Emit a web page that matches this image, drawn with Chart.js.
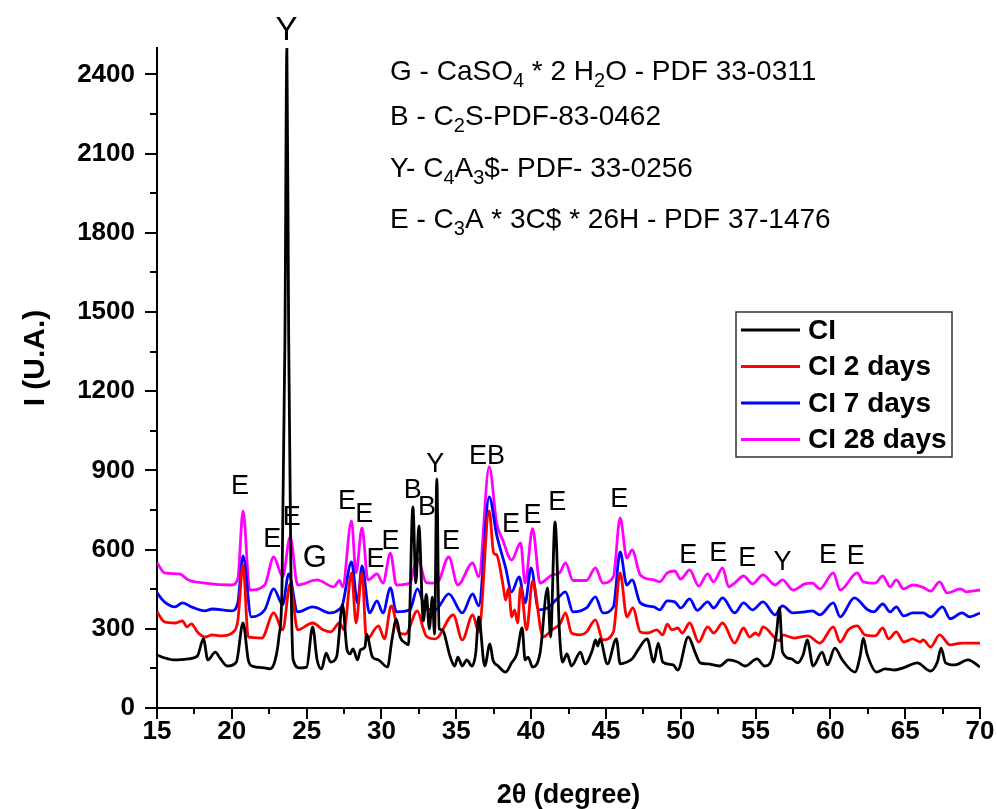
<!DOCTYPE html>
<html>
<head>
<meta charset="utf-8">
<title>XRD CI</title>
<script src="https://cdn.jsdelivr.net/npm/chart.js@4.4.1/dist/chart.umd.min.js"></script>
<style>
  html, body { margin: 0; padding: 0; background: #fff; }
  canvas { display: block; }
</style>
</head>
<body>
<canvas id="xrdChart" width="997" height="809"></canvas>
<script>
// 2theta (deg) / intensity pairs for each sample
const ciX = [15.0, 15.5, 16.2, 17.1, 17.7, 18.1, 18.4, 18.9, 19.2, 19.7, 20.3, 20.75, 21.1, 21.35, 22.2, 22.55, 22.9, 23.15, 23.35, 23.55, 23.68, 23.8, 23.95, 24.1, 24.55, 25.0, 25.4, 25.7, 26.0, 26.3, 26.6, 27.0, 27.4, 27.7, 27.9, 28.1, 28.4, 28.6, 28.9, 29.0, 29.4, 29.8, 30.4, 30.7, 31.0, 31.25, 31.6, 31.8, 32.1, 32.3, 32.5, 32.8, 33.0, 33.2, 33.4, 33.55, 33.7, 33.85, 34.05, 34.6, 34.9, 35.1, 35.4, 35.7, 36.05, 36.3, 36.5, 36.9, 37.25, 37.45, 37.8, 38.3, 38.7, 39.05, 39.4, 39.6, 39.8, 40.1, 40.6, 41.1, 41.3, 41.6, 41.9, 42.1, 42.4, 42.7, 43.3, 43.6, 44.1, 44.3, 44.45, 44.6, 45.1, 45.7, 45.95, 46.4, 46.75, 47.15, 47.75, 48.2, 48.5, 48.8, 49.5, 49.8, 50.5, 51.0, 51.3, 51.8, 52.6, 53.2, 53.8, 54.3, 55.1, 55.6, 56.1, 56.4, 56.6, 56.8, 57.4, 57.8, 58.2, 58.45, 58.85, 59.45, 59.8, 60.3, 60.8, 61.65, 62.0, 62.2, 62.45, 63.1, 63.65, 64.3, 65.0, 65.8, 66.7, 67.15, 67.4, 67.7, 68.3, 69.2, 70.0];
const ciY = [201, 190, 182, 186, 197, 262, 182, 212, 190, 159, 174, 322, 182, 159, 152, 148, 182, 269, 447, 1400, 2500, 1400, 520, 182, 152, 155, 307, 182, 148, 208, 174, 193, 391, 220, 205, 224, 182, 220, 231, 280, 193, 182, 155, 258, 337, 269, 246, 239, 762, 474, 690, 330, 430, 300, 420, 280, 868, 300, 296, 193, 159, 193, 159, 182, 159, 208, 345, 159, 243, 182, 159, 136, 171, 205, 303, 182, 193, 155, 208, 455, 269, 705, 284, 174, 205, 159, 212, 167, 220, 258, 235, 262, 167, 262, 167, 174, 186, 220, 262, 174, 246, 174, 163, 144, 269, 205, 171, 167, 159, 182, 174, 159, 186, 159, 186, 284, 379, 212, 186, 171, 205, 258, 159, 212, 163, 227, 182, 136, 200, 265, 205, 136, 148, 144, 155, 171, 140, 174, 227, 171, 163, 182, 155];

const ci2X = [15.0, 15.5, 16.2, 16.7, 17.0, 17.3, 17.7, 18.2, 18.7, 19.3, 20.1, 20.4, 20.75, 21.1, 22.0, 22.8, 23.4, 23.9, 24.4, 25.4, 26.1, 26.6, 27.2, 27.5, 28.0, 28.3, 28.7, 29.0, 29.8, 30.2, 30.65, 31.2, 31.6, 32.4, 32.8, 33.0, 33.6, 34.8, 35.4, 36.1, 36.5, 37.2, 37.5, 37.7, 38.1, 38.3, 38.5, 38.7, 38.9, 39.1, 39.3, 39.7, 40.1, 40.8, 41.4, 41.95, 42.3, 42.7, 43.3, 43.7, 44.3, 44.8, 45.5, 45.95, 46.4, 46.8, 47.3, 47.8, 48.4, 48.8, 49.1, 49.4, 49.8, 50.1, 50.6, 51.2, 51.8, 52.2, 52.8, 53.6, 54.2, 54.6, 55.0, 55.2, 55.5, 56.6, 56.8, 57.6, 58.5, 59.3, 60.2, 60.65, 61.2, 61.8, 62.3, 63.0, 63.5, 63.9, 64.4, 64.9, 65.5, 66.0, 66.2, 66.7, 67.3, 68.0, 68.8, 70.0];
const ci2Y = [364, 326, 322, 330, 307, 319, 288, 269, 277, 273, 288, 330, 542, 269, 265, 360, 296, 470, 296, 322, 296, 288, 322, 296, 512, 322, 512, 258, 311, 262, 387, 284, 280, 368, 300, 272, 262, 353, 258, 353, 288, 747, 587, 580, 474, 409, 455, 345, 372, 322, 459, 296, 481, 269, 296, 320, 360, 284, 277, 288, 334, 258, 288, 512, 345, 379, 288, 284, 296, 277, 318, 296, 303, 284, 322, 250, 307, 284, 322, 246, 303, 269, 284, 275, 307, 254, 277, 265, 273, 246, 307, 250, 296, 311, 277, 273, 303, 262, 288, 250, 262, 250, 258, 231, 277, 239, 246, 246];

const ci7X = [15.0, 15.5, 16.2, 16.7, 17.3, 18.2, 18.7, 20.0, 20.4, 20.75, 21.3, 22.2, 22.8, 23.4, 23.8, 24.4, 25.4, 26.6, 27.2, 27.4, 28.0, 28.4, 28.7, 29.2, 29.7, 30.1, 30.6, 31.0, 31.9, 32.4, 33.0, 33.6, 34.5, 35.4, 36.1, 36.5, 37.2, 37.7, 38.3, 38.7, 39.2, 39.6, 40.0, 40.5, 41.1, 41.8, 42.3, 42.8, 43.7, 44.3, 44.8, 45.5, 45.95, 46.4, 46.75, 47.3, 48.2, 48.6, 49.1, 49.6, 50.0, 50.6, 51.1, 51.8, 52.2, 52.8, 53.6, 54.2, 54.8, 55.5, 56.3, 56.8, 57.5, 58.3, 58.8, 59.3, 60.2, 60.65, 61.6, 62.5, 62.9, 63.5, 64.0, 64.4, 64.9, 65.5, 66.2, 66.7, 67.5, 68.0, 68.8, 69.3, 70.0];
const ci7Y = [436, 402, 383, 398, 383, 368, 375, 368, 398, 576, 345, 372, 451, 391, 508, 364, 383, 360, 375, 391, 553, 398, 538, 360, 406, 360, 455, 364, 372, 451, 375, 372, 432, 360, 432, 387, 800, 656, 531, 440, 497, 398, 531, 372, 379, 417, 440, 364, 379, 421, 360, 383, 591, 466, 485, 398, 383, 372, 406, 402, 379, 413, 370, 402, 379, 417, 360, 398, 372, 402, 353, 387, 360, 364, 368, 353, 398, 345, 417, 372, 364, 394, 364, 383, 349, 360, 360, 345, 383, 338, 360, 345, 360];

const ci28X = [15.0, 15.5, 16.5, 17.1, 18.2, 20.0, 20.4, 20.75, 21.2, 22.2, 22.8, 23.4, 23.9, 24.4, 25.7, 26.8, 27.2, 27.4, 28.0, 28.3, 28.7, 29.1, 29.7, 30.1, 30.6, 31.0, 31.9, 32.4, 33.0, 33.7, 34.5, 35.1, 36.1, 36.5, 37.2, 37.7, 38.1, 38.7, 39.3, 39.6, 40.1, 40.6, 41.4, 41.9, 42.3, 42.8, 43.7, 44.3, 44.8, 45.5, 45.95, 46.4, 46.75, 47.3, 48.2, 48.6, 49.1, 49.6, 50.0, 50.6, 51.2, 51.8, 52.2, 52.8, 53.2, 53.6, 54.2, 54.8, 55.5, 56.3, 56.8, 57.5, 58.3, 58.8, 59.3, 60.2, 60.65, 61.8, 62.2, 63.0, 63.5, 64.0, 64.4, 64.9, 65.5, 66.2, 66.7, 67.3, 67.8, 68.7, 69.1, 70.0];
const ci28Y = [551, 512, 508, 485, 473, 466, 490, 747, 447, 466, 572, 497, 648, 466, 485, 459, 483, 459, 709, 512, 682, 485, 508, 473, 587, 466, 473, 568, 475, 473, 572, 466, 550, 497, 914, 701, 637, 561, 625, 473, 679, 473, 504, 512, 550, 483, 483, 531, 473, 497, 720, 568, 599, 504, 485, 478, 512, 519, 488, 523, 462, 508, 478, 531, 459, 473, 500, 470, 504, 466, 485, 447, 470, 473, 451, 512, 447, 512, 478, 473, 500, 459, 485, 451, 466, 457, 443, 478, 436, 451, 440, 447];

const seriesNames = ["CI", "CI 2 days", "CI 7 days", "CI 28 days"];
const seriesColors = ["#000000", "#ff0000", "#0000ff", "#ff00ff"];

const xTicks = [15, 20, 25, 30, 35, 40, 45, 50, 55, 60, 65, 70];
const yTicks = [0, 300, 600, 900, 1200, 1500, 1800, 2100, 2400];

// phase letters above the peaks (2theta, intensity position)
const peakText = ["Y", "E", "E", "E", "G", "E", "E", "E", "E", "B", "B", "Y", "E", "E", "B", "E", "E", "E", "E", "E", "E", "E", "Y", "E", "E"];
const peakX = [23.65, 20.55, 22.7, 24.0, 25.55, 27.7, 28.85, 29.6, 30.6, 32.1, 33.05, 33.6, 34.65, 36.45, 37.65, 38.65, 40.1, 41.75, 45.9, 50.5, 52.5, 54.45, 56.8, 59.85, 61.7];
const peakY = [2565, 838, 637, 720, 568, 781, 731, 561, 629, 822, 758, 921, 629, 951, 951, 694, 728, 777, 788, 576, 584, 568, 550, 576, 572];
const peakSize = [33, 27, 27, 27, 31, 27, 27, 27, 27, 27, 27, 27, 27, 27, 27, 27, 27, 27, 27, 27, 27, 27, 27, 27, 27];

// phase key, [text, subscript?]
const phaseKey = [
  [["G - CaSO", 0], ["4", 1], [" * 2 H", 0], ["2", 1], ["O - PDF 33-0311", 0]],
  [["B - C", 0], ["2", 1], ["S-PDF-83-0462", 0]],
  [["Y- C", 0], ["4", 1], ["A", 0], ["3", 1], ["$- PDF- 33-0256", 0]],
  [["E - C", 0], ["3", 1], ["A * 3C$ * 26H - PDF 37-1476", 0]]
];

const FONT = "'Liberation Sans', Arial, sans-serif";
Chart.defaults.font.family = FONT;
Chart.defaults.color = "#000";

const pairs = (xs, ys) => xs.map((x, i) => ({ x, y: ys[i] }));
const allX = [ciX, ci2X, ci7X, ci28X];
const allY = [ciY, ci2Y, ci7Y, ci28Y];

const datasets = seriesNames.map((name, i) => ({
  label: name,
  data: pairs(allX[i], allY[i]),
  borderColor: seriesColors[i],
  backgroundColor: seriesColors[i],
  borderWidth: 2.8,
  pointRadius: 0,
  cubicInterpolationMode: "monotone",
  fill: false
}));

// minor + major tick marks, drawn outward like the original plot
const tickMarks = {
  id: "tickMarks",
  afterDraw(chart) {
    const { ctx, chartArea, scales } = chart;
    ctx.save();
    ctx.strokeStyle = "#000";
    ctx.lineWidth = 2;
    for (let v = 15; v <= 70; v += 2.5) {
      const px = Math.round(scales.x.getPixelForValue(v));
      const len = v % 5 === 0 ? 11 : 6;
      ctx.beginPath();
      ctx.moveTo(px, chartArea.bottom);
      ctx.lineTo(px, chartArea.bottom + len);
      ctx.stroke();
    }
    for (let v = 0; v <= 2500; v += 150) {
      const py = Math.round(scales.y.getPixelForValue(v));
      const len = v % 300 === 0 ? 12 : 7;
      ctx.beginPath();
      ctx.moveTo(chartArea.left, py);
      ctx.lineTo(chartArea.left - len, py);
      ctx.stroke();
    }
    ctx.restore();
  }
};

const peakLetters = {
  id: "peakLetters",
  afterDraw(chart) {
    const { ctx, scales } = chart;
    ctx.save();
    ctx.fillStyle = "#000";
    ctx.textAlign = "center";
    ctx.textBaseline = "middle";
    peakText.forEach((t, i) => {
      ctx.font = peakSize[i] + "px " + FONT;
      ctx.fillText(t, scales.x.getPixelForValue(peakX[i]), scales.y.getPixelForValue(peakY[i]));
    });
    ctx.restore();
  }
};

const keyText = {
  id: "keyText",
  afterDraw(chart) {
    const { ctx } = chart;
    const baselines = [80, 125, 177, 228];
    ctx.save();
    ctx.fillStyle = "#000";
    ctx.textBaseline = "alphabetic";
    phaseKey.forEach((parts, row) => {
      let x = 390;
      parts.forEach(([txt, sub]) => {
        ctx.font = (sub ? 20 : 28) + "px " + FONT;
        ctx.fillText(txt, x, baselines[row] + (sub ? 7 : 0));
        x += ctx.measureText(txt).width;
      });
    });
    ctx.restore();
  }
};

// vertical axis title, sits a bit above the middle of the axis
const yTitle = {
  id: "yTitle",
  afterDraw(chart) {
    const { ctx } = chart;
    ctx.save();
    ctx.translate(36, 358);
    ctx.rotate(-Math.PI / 2);
    ctx.font = "bold 30px " + FONT;
    ctx.fillStyle = "#000";
    ctx.textAlign = "center";
    ctx.textBaseline = "middle";
    ctx.fillText("I (U.A.)", 0, 0);
    ctx.restore();
  }
};

const boxLegend = {
  id: "boxLegend",
  afterDraw(chart) {
    const { ctx } = chart;
    const bx = 736, by = 312, bw = 216, bh = 145;
    ctx.save();
    ctx.fillStyle = "#fff";
    ctx.fillRect(bx, by, bw, bh);
    ctx.strokeStyle = "#333";
    ctx.lineWidth = 1.5;
    ctx.strokeRect(bx, by, bw, bh);
    ctx.font = "bold 28px " + FONT;
    ctx.textBaseline = "middle";
    chart.data.datasets.forEach((ds, i) => {
      const y = by + 18 + i * 36.5;
      ctx.strokeStyle = ds.borderColor;
      ctx.lineWidth = 2.8;
      ctx.beginPath();
      ctx.moveTo(bx + 5, y);
      ctx.lineTo(bx + 64, y);
      ctx.stroke();
      ctx.fillStyle = "#000";
      ctx.fillText(ds.label, bx + 72, y + 1);
    });
    ctx.restore();
  }
};

new Chart(document.getElementById("xrdChart"), {
  type: "line",
  data: { datasets },
  options: {
    responsive: false,
    animation: false,
    layout: { padding: { top: 48, right: 17, left: 0, bottom: 0 } },
    plugins: {
      legend: { display: false },
      tooltip: { enabled: false }
    },
    scales: {
      x: {
        type: "linear",
        min: 15,
        max: 70,
        afterFit: (s) => { s.height = 101; s.paddingLeft = 0; s.paddingRight = 0; },
        afterBuildTicks: (s) => { s.ticks = xTicks.map(v => ({ value: v })); },
        grid: { display: true, drawOnChartArea: false, drawTicks: false },
        border: { display: true, color: "#000", width: 2 },
        ticks: { padding: 8, maxRotation: 0, autoSkip: false, font: { size: 26, weight: "bold" } },
        title: {
          display: true,
          text: "2θ (degree)",
          font: { size: 27, weight: "bold", lineHeight: 1 },
          padding: { top: 0, bottom: 0 }
        }
      },
      y: {
        min: 0,
        max: 2500,
        afterFit: (s) => { s.width = 157; s.paddingTop = 0; s.paddingBottom = 0; },
        afterBuildTicks: (s) => { s.ticks = yTicks.map(v => ({ value: v })); },
        grid: { display: true, drawOnChartArea: false, drawTicks: false },
        border: { display: true, color: "#000", width: 2 },
        ticks: {
          padding: 22,
          autoSkip: false,
          font: { size: 26, weight: "bold" },
          callback: (v) => String(v)
        },
        title: { display: false }
      }
    }
  },
  plugins: [tickMarks, peakLetters, keyText, yTitle, boxLegend]
});
</script>
</body>
</html>
